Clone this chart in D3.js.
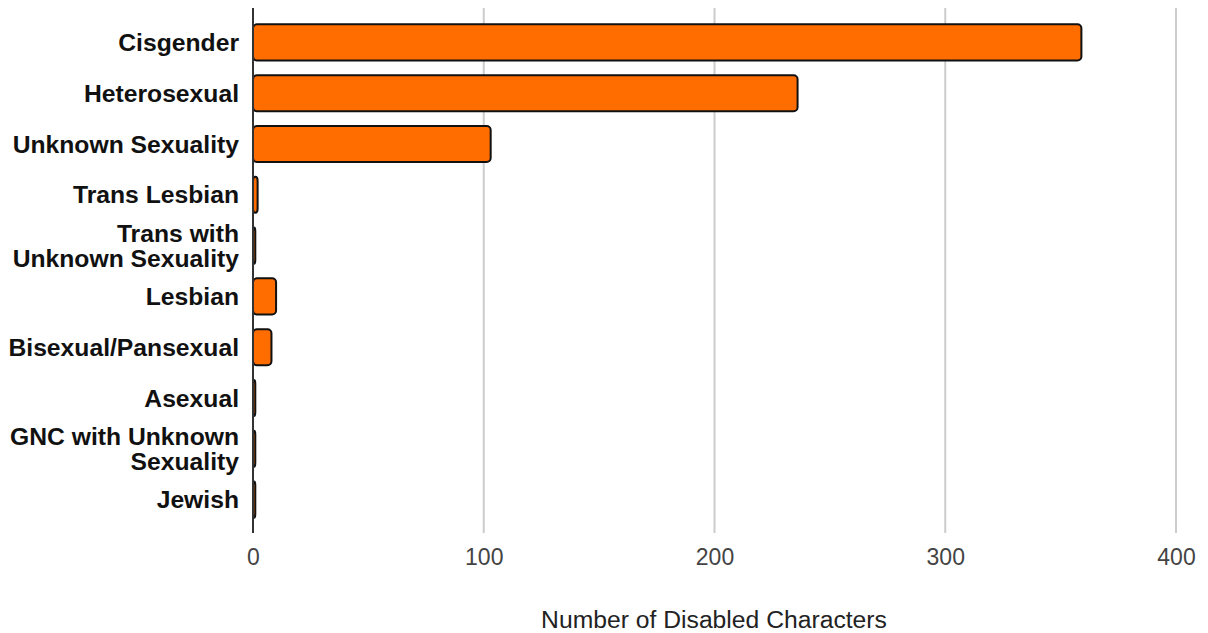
<!DOCTYPE html>
<html><head><meta charset="utf-8">
<script src="https://cdn.jsdelivr.net/npm/d3@7"></script>
<style>body{margin:0;background:#fff}svg{display:block}</style>
</head><body>
<svg id="chart" width="1208" height="633"></svg>
<script>
const categories = ["Cisgender","Heterosexual","Unknown Sexuality","Trans Lesbian","Trans with\nUnknown Sexuality","Lesbian","Bisexual/Pansexual","Asexual","GNC with Unknown\nSexuality","Jewish"];
const values = [359, 236, 103, 2, 1, 10, 8, 1, 1, 1];
const xTicks = [0, 100, 200, 300, 400];
const xTitle = "Number of Disabled Characters";

(function () {
const svg = d3.select("#chart");
const mLeft = 253, mRight = 1176, mTop = 17, mBottom = 525;
const x = d3.scaleLinear().domain([0, 400]).range([mLeft, mRight]);
const y = d3.scaleBand().domain(categories).range([mTop, mBottom]).paddingInner(0.29).paddingOuter(0.145);

// gridlines
svg.append("g").selectAll("line").data(xTicks.filter(d => d > 0)).join("line")
  .attr("x1", d => x(d)).attr("x2", d => x(d)).attr("y1", 8).attr("y2", 533)
  .attr("stroke", "#cccccc").attr("stroke-width", 2);

// bars
svg.append("g").selectAll("rect").data(categories).join("rect")
  .attr("x", x(0)).attr("y", d => y(d))
  .attr("width", (d, i) => Math.max(x(values[i]) - x(0), 1))
  .attr("height", y.bandwidth())
  .attr("rx", 4).attr("ry", 4)
  .attr("fill", "#ff6d00").attr("stroke", "#111").attr("stroke-width", 2);

// axis line
svg.append("line").attr("x1", x(0)).attr("x2", x(0)).attr("y1", 8).attr("y2", 533)
  .attr("stroke", "#333").attr("stroke-width", 2);

// x axis tick labels
const xAxis = d3.axisBottom(x).tickValues(xTicks).tickSize(0).tickPadding(0);
const gx = svg.append("g").attr("transform", "translate(0,549)").call(xAxis);
gx.select(".domain").remove();
gx.selectAll("text").attr("font-family", "Liberation Sans, Arial, sans-serif").attr("font-size", 23).attr("fill", "#444").attr("dy", "0.71em");

// category labels
const lab = svg.append("g").selectAll("text").data(categories).join("text")
  .attr("text-anchor", "end")
  .attr("font-family", "Liberation Sans, Arial, sans-serif").attr("font-weight", "bold").attr("font-size", 24.7).attr("fill", "#111")
  .attr("transform", d => `translate(239,${y(d) + y.bandwidth() / 2})`);
lab.each(function(d) {
  const lines = d.split("\n");
  const t = d3.select(this);
  lines.forEach((l, i) => {
    t.append("tspan").attr("x", 0).attr("y", (i - (lines.length - 1) / 2) * 25).attr("dy", "0.35em").text(l);
  });
});

// x title
svg.append("text").attr("x", 714).attr("y", 628).attr("text-anchor", "middle")
  .attr("font-family", "Liberation Sans, Arial, sans-serif").attr("font-size", 24.7).attr("fill", "#222").text(xTitle);
})();
</script>
</body></html>
